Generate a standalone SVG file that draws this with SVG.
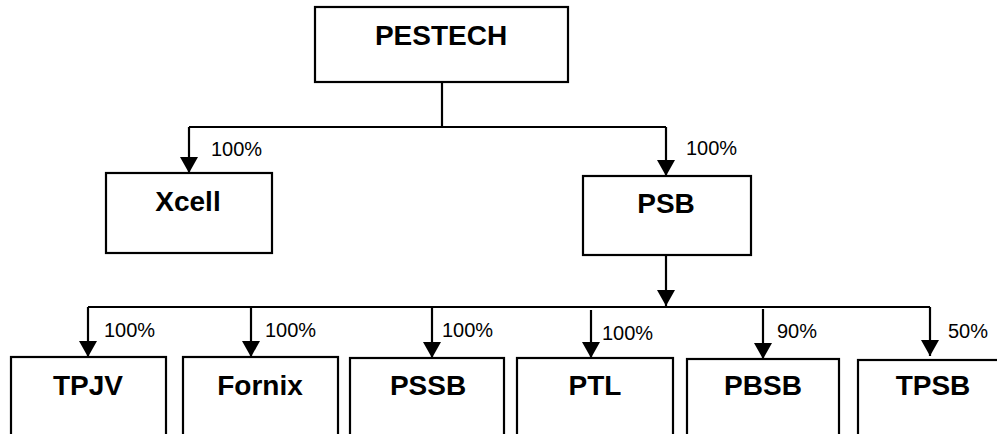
<svg xmlns="http://www.w3.org/2000/svg" width="997" height="434" viewBox="0 0 997 434">
<defs>
<style>
.box{fill:#fff;stroke:#000;stroke-width:2.2}
.name{font-family:"Liberation Sans",Arial,sans-serif;font-weight:bold;font-size:28px;text-anchor:middle;fill:#000}
.pct{font-family:"Liberation Sans",Arial,sans-serif;font-size:20px;fill:#000}
.ln{fill:none;stroke:#000;stroke-width:2.2}
</style>
<marker id="ah" viewBox="0 0 16 18" markerWidth="16" markerHeight="18" refX="16" refY="9" orient="auto" markerUnits="userSpaceOnUse">
<path d="M0,0 L16,9 L0,18 Z" fill="#000"/>
</marker>
</defs>
<rect width="997" height="434" fill="#fff"/>
<g id="connectors">
<path class="ln" d="M442,82 V127"/>
<path class="ln" d="M189,127 H666"/>
<path class="ln" d="M189,127 V173" marker-end="url(#ah)"/>
<path class="ln" d="M666,127 V176" marker-end="url(#ah)"/>
<path class="ln" d="M666,255 V306" marker-end="url(#ah)"/>
<path class="ln" d="M88,307 H930"/>
<path class="ln" d="M88,307 V357" marker-end="url(#ah)"/>
<path class="ln" d="M251,307 V357" marker-end="url(#ah)"/>
<path class="ln" d="M432,307 V358" marker-end="url(#ah)"/>
<path class="ln" d="M591,310 V358" marker-end="url(#ah)"/>
<path class="ln" d="M763,309 V359" marker-end="url(#ah)"/>
<path class="ln" d="M930,307 V356" marker-end="url(#ah)"/>
<text class="pct" x="211" y="156">100%</text>
<text class="pct" x="686" y="155">100%</text>
<text class="pct" x="104" y="337">100%</text>
<text class="pct" x="265" y="337">100%</text>
<text class="pct" x="442" y="337">100%</text>
<text class="pct" x="602" y="340">100%</text>
<text class="pct" x="777" y="338">90%</text>
<text class="pct" x="948" y="338">50%</text>
</g>
<g id="pestech"><rect class="box" x="315" y="7" width="253" height="75"/><text class="name" x="441" y="45">PESTECH</text></g>
<g id="xcell"><rect class="box" x="106" y="173" width="166" height="80"/><text class="name" x="188" y="211">Xcell</text></g>
<g id="psb"><rect class="box" x="583" y="176" width="168" height="79"/><text class="name" x="666" y="213">PSB</text></g>
<g id="tpjv"><rect class="box" x="11" y="357" width="155" height="100"/><text class="name" x="88" y="395">TPJV</text></g>
<g id="fornix"><rect class="box" x="183" y="357" width="155" height="100"/><text class="name" x="260" y="395">Fornix</text></g>
<g id="pssb"><rect class="box" x="350" y="358" width="154" height="100"/><text class="name" x="428" y="395">PSSB</text></g>
<g id="ptl"><rect class="box" x="517" y="358" width="156" height="100"/><text class="name" x="595" y="395">PTL</text></g>
<g id="pbsb"><rect class="box" x="687" y="359" width="152" height="100"/><text class="name" x="763" y="395">PBSB</text></g>
<g id="tpsb"><rect class="box" x="858" y="360" width="160" height="100"/><text class="name" x="933" y="395">TPSB</text></g>
</svg>
